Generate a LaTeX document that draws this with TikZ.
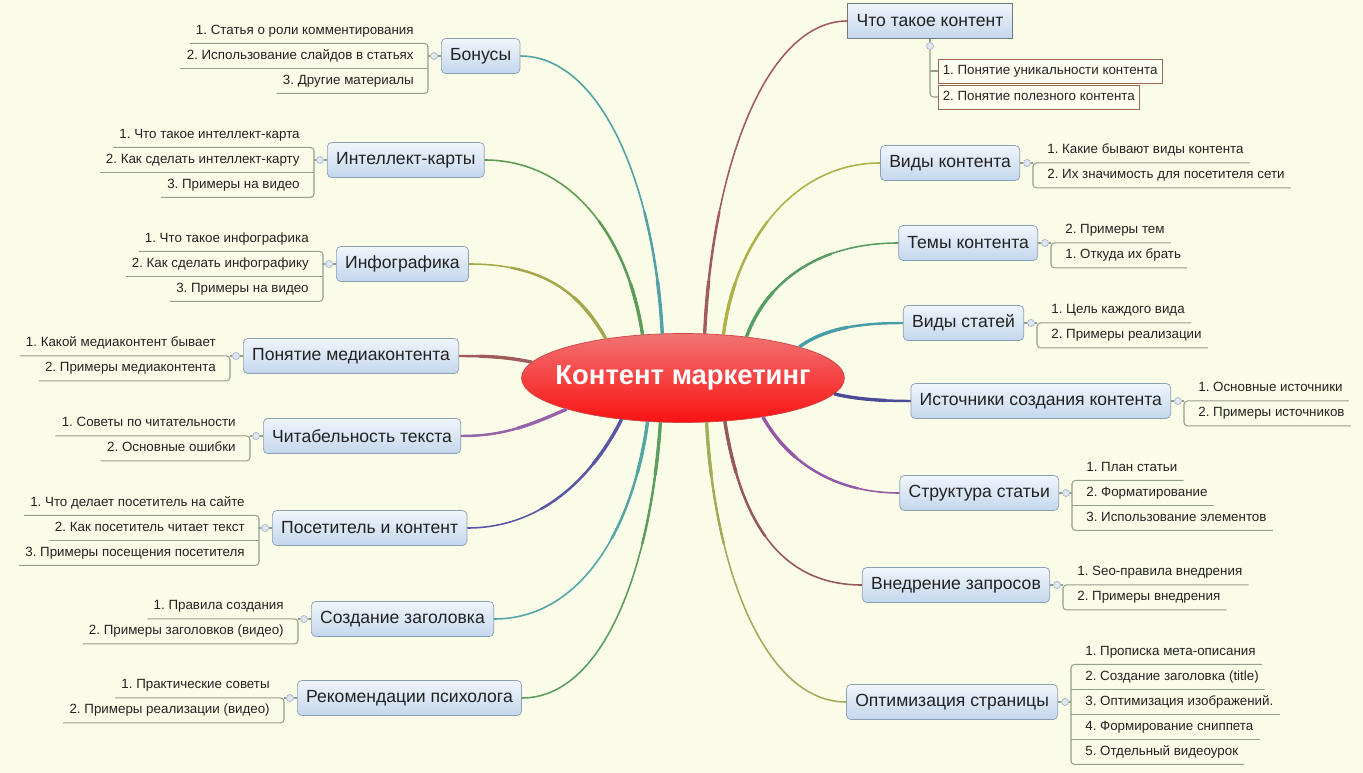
\documentclass[tikz,border=0pt]{standalone}
\usepackage{fontspec}
\setmainfont{Liberation Sans}
\usetikzlibrary{shapes.geometric}
\frenchspacing
\definecolor{paper}{RGB}{251,252,232}
\definecolor{ink}{RGB}{34,34,34}
\definecolor{boxtop}{RGB}{240,245,251}
\definecolor{boxbot}{RGB}{196,215,237}
\definecolor{boxline}{RGB}{140,160,180}
\definecolor{ruleline}{RGB}{150,158,140}
\definecolor{knobline}{RGB}{165,182,200}
\definecolor{knobfill}{RGB}{222,231,242}
\definecolor{cBon}{RGB}{80,162,165}
\definecolor{cInt}{RGB}{92,156,86}
\definecolor{cInf}{RGB}{166,166,74}
\definecolor{cMed}{RGB}{160,90,90}
\definecolor{cRead}{RGB}{150,100,168}
\definecolor{cVis}{RGB}{88,88,166}
\definecolor{cHead}{RGB}{82,166,166}
\definecolor{cPsy}{RGB}{90,158,96}
\definecolor{cWhat}{RGB}{162,92,92}
\definecolor{cKind}{RGB}{176,176,72}
\definecolor{cTheme}{RGB}{88,158,100}
\definecolor{cArt}{RGB}{72,158,166}
\definecolor{cSrc}{RGB}{74,74,150}
\definecolor{cStr}{RGB}{150,88,166}
\definecolor{cImpl}{RGB}{150,88,88}
\definecolor{cOpt}{RGB}{160,174,90}

\begin{document}
\begin{tikzpicture}[x=0.02cm, y=-0.02cm,
	topic/.style={draw=boxline, rounded corners=2.5pt, top color=boxtop, bottom color=boxbot,
	text=ink, font=\fontsize{10}{12}\selectfont, minimum height=0.7cm, inner xsep=5pt},
	leaf/.style={text=ink, font=\fontsize{7.6}{9}\selectfont, inner xsep=3.4pt, minimum height=0.48cm,
	text height=5.5pt, text depth=1.6pt},
	wbox/.style={leaf, draw={rgb,255:red,156;green,104;blue,82}, fill={rgb,255:red,255;green,255;blue,243},
	minimum height=0.42cm, inner xsep=2.5pt},
	knob/.style={circle, draw=knobline, fill=knobfill, inner sep=0pt, minimum size=0.14cm},
	rule/.style={draw=ruleline, line width=0.6pt},
	limb/.style={draw=#1, line width=0.9pt,
	preaction={draw=#1, line width=1.4pt, dash pattern=on 70pt off 2000pt},
	preaction={draw=#1, line width=1.9pt, dash pattern=on 30pt off 2000pt}}]
\fill[paper] (0,0) rectangle (1363,773);

% centre
\node[ellipse, draw={rgb,255:red,205;green,70;blue,70}, top color={rgb,255:red,242;green,115;blue,115},
	bottom color={rgb,255:red,250;green,18;blue,18}, minimum width=6.46cm, minimum height=1.78cm,
	inner sep=0pt] (C) at (683,378) {};
\node[text=white, font=\fontsize{15.6}{18}\selectfont\bfseries] (Ct) at (C) {Контент маркетинг};

% left side
\node[topic, anchor=west] (L1) at (441,56) {Бонусы};
\node[knob] (L1k) at (434,56) {};
\coordinate (L1t) at (428,56);
\node[leaf, anchor=east] (L1-1) at (420,31) {1. Статья о роли комментирования};
\node[leaf, anchor=east] (L1-2) at (420,56) {2. Использование слайдов в статьях};
\node[leaf, anchor=east] (L1-3) at (420,81) {3. Другие материалы};
\draw[rule, rounded corners=2pt] (L1-1.south west) -- (L1-1.south -| L1t) -- (L1-3.south -| L1t) -- (L1-3.south west);
\draw[rule] (L1-2.south west) -- (L1-2.south -| L1t);
\draw[rule] (L1t) -- (L1k) -- (L1);

\node[topic, anchor=west] (L2) at (327,160) {Интеллект-карты};
\node[knob] (L2k) at (320,160) {};
\coordinate (L2t) at (314,160);
\node[leaf, anchor=east] (L2-1) at (306,135) {1. Что такое интеллект-карта};
\node[leaf, anchor=east] (L2-2) at (306,160) {2. Как сделать интеллект-карту};
\node[leaf, anchor=east] (L2-3) at (306,185) {3. Примеры на видео};
\draw[rule, rounded corners=2pt] (L2-1.south west) -- (L2-1.south -| L2t) -- (L2-3.south -| L2t) -- (L2-3.south west);
\draw[rule] (L2-2.south west) -- (L2-2.south -| L2t);
\draw[rule] (L2t) -- (L2k) -- (L2);

\node[topic, anchor=west] (L3) at (336,264) {Инфографика};
\node[knob] (L3k) at (329,264) {};
\coordinate (L3t) at (323,264);
\node[leaf, anchor=east] (L3-1) at (315,239) {1. Что такое инфографика};
\node[leaf, anchor=east] (L3-2) at (315,264) {2. Как сделать инфографику};
\node[leaf, anchor=east] (L3-3) at (315,289) {3. Примеры на видео};
\draw[rule, rounded corners=2pt] (L3-1.south west) -- (L3-1.south -| L3t) -- (L3-3.south -| L3t) -- (L3-3.south west);
\draw[rule] (L3-2.south west) -- (L3-2.south -| L3t);
\draw[rule] (L3t) -- (L3k) -- (L3);

\node[topic, anchor=west] (L4) at (243,356) {Понятие медиаконтента};
\node[knob] (L4k) at (236,356) {};
\coordinate (L4t) at (230,356);
\node[leaf, anchor=east] (L4-1) at (222,343.5) {1. Какой медиаконтент бывает};
\node[leaf, anchor=east] (L4-2) at (222,368.5) {2. Примеры медиаконтента};
\draw[rule, rounded corners=2pt] (L4-1.south west) -- (L4-1.south -| L4t) -- (L4-2.south -| L4t) -- (L4-2.south west);
\draw[rule] (L4t) -- (L4k) -- (L4);

\node[topic, anchor=west] (L5) at (263,436) {Читабельность текста};
\node[knob] (L5k) at (256,436) {};
\coordinate (L5t) at (250,436);
\node[leaf, anchor=east] (L5-1) at (242,423.5) {1. Советы по читательности};
\node[leaf, anchor=east] (L5-2) at (242,448.5) {2. Основные ошибки};
\draw[rule, rounded corners=2pt] (L5-1.south west) -- (L5-1.south -| L5t) -- (L5-2.south -| L5t) -- (L5-2.south west);
\draw[rule] (L5t) -- (L5k) -- (L5);

\node[topic, anchor=west] (L6) at (272,528) {Посетитель и контент};
\node[knob] (L6k) at (265,528) {};
\coordinate (L6t) at (259,528);
\node[leaf, anchor=east] (L6-1) at (251,503) {1. Что делает посетитель на сайте};
\node[leaf, anchor=east] (L6-2) at (251,528) {2. Как посетитель читает текст};
\node[leaf, anchor=east] (L6-3) at (251,553) {3. Примеры посещения посетителя};
\draw[rule, rounded corners=2pt] (L6-1.south west) -- (L6-1.south -| L6t) -- (L6-3.south -| L6t) -- (L6-3.south west);
\draw[rule] (L6-2.south west) -- (L6-2.south -| L6t);
\draw[rule] (L6t) -- (L6k) -- (L6);

\node[topic, anchor=west] (L7) at (311,619) {Создание заголовка};
\node[knob] (L7k) at (304,619) {};
\coordinate (L7t) at (298,619);
\node[leaf, anchor=east] (L7-1) at (290,606.5) {1. Правила создания};
\node[leaf, anchor=east] (L7-2) at (290,631.5) {2. Примеры заголовков (видео)};
\draw[rule, rounded corners=2pt] (L7-1.south west) -- (L7-1.south -| L7t) -- (L7-2.south -| L7t) -- (L7-2.south west);
\draw[rule] (L7t) -- (L7k) -- (L7);

\node[topic, anchor=west] (L8) at (297,698) {Рекомендации психолога};
\node[knob] (L8k) at (290,698) {};
\coordinate (L8t) at (284,698);
\node[leaf, anchor=east] (L8-1) at (276,685.5) {1. Практические советы};
\node[leaf, anchor=east] (L8-2) at (276,710.5) {2. Примеры реализации (видео)};
\draw[rule, rounded corners=2pt] (L8-1.south west) -- (L8-1.south -| L8t) -- (L8-2.south -| L8t) -- (L8-2.south west);
\draw[rule] (L8t) -- (L8k) -- (L8);

% right side
\node[topic, rounded corners=0pt, draw={rgb,255:red,112;green,120;blue,128}] (R1) at (930,21) {Что такое контент};
\node[knob] (R1k) at (930,46) {};
\node[wbox, anchor=west] (R1-1) at (938,71) {1. Понятие уникальности контента};
\node[wbox, anchor=west] (R1-2) at (938,97) {2. Понятие полезного контента};
\draw[rule] (R1) -- (R1k);
\draw[rule, rounded corners=2pt] (R1k) -- (R1k |- R1-2.west) -- (R1-2.west);
\draw[rule] (R1k |- R1-1.west) -- (R1-1.west);

\node[topic, anchor=east] (R2) at (1020,163) {Виды контента};
\node[knob] (R2k) at (1027,163) {};
\coordinate (R2t) at (1033,163);
\node[leaf, anchor=west] (R2-1) at (1041,150.5) {1. Какие бывают виды контента};
\node[leaf, anchor=west] (R2-2) at (1041,175.5) {2. Их значимость для посетителя сети};
\draw[rule, rounded corners=2pt] (R2-1.south east) -- (R2-1.south -| R2t) -- (R2-2.south -| R2t) -- (R2-2.south east);
\draw[rule] (R2) -- (R2k) -- (R2t);

\node[topic, anchor=east] (R3) at (1038,243) {Темы контента};
\node[knob] (R3k) at (1045,243) {};
\coordinate (R3t) at (1051,243);
\node[leaf, anchor=west] (R3-1) at (1059,230.5) {2. Примеры тем};
\node[leaf, anchor=west] (R3-2) at (1059,255.5) {1. Откуда их брать};
\draw[rule, rounded corners=2pt] (R3-1.south east) -- (R3-1.south -| R3t) -- (R3-2.south -| R3t) -- (R3-2.south east);
\draw[rule] (R3) -- (R3k) -- (R3t);

\node[topic, anchor=east] (R4) at (1024,323) {Виды статей};
\node[knob] (R4k) at (1031,323) {};
\coordinate (R4t) at (1037,323);
\node[leaf, anchor=west] (R4-1) at (1045,310.5) {1. Цель каждого вида};
\node[leaf, anchor=west] (R4-2) at (1045,335.5) {2. Примеры реализации};
\draw[rule, rounded corners=2pt] (R4-1.south east) -- (R4-1.south -| R4t) -- (R4-2.south -| R4t) -- (R4-2.south east);
\draw[rule] (R4) -- (R4k) -- (R4t);

\node[topic, anchor=east] (R5) at (1171,401) {Источники создания контента};
\node[knob] (R5k) at (1178,401) {};
\coordinate (R5t) at (1184,401);
\node[leaf, anchor=west] (R5-1) at (1192,388.5) {1. Основные источники};
\node[leaf, anchor=west] (R5-2) at (1192,413.5) {2. Примеры источников};
\draw[rule, rounded corners=2pt] (R5-1.south east) -- (R5-1.south -| R5t) -- (R5-2.south -| R5t) -- (R5-2.south east);
\draw[rule] (R5) -- (R5k) -- (R5t);

\node[topic, anchor=east] (R6) at (1059,493) {Структура статьи};
\node[knob] (R6k) at (1066,493) {};
\coordinate (R6t) at (1072,493);
\node[leaf, anchor=west] (R6-1) at (1080,468) {1. План статьи};
\node[leaf, anchor=west] (R6-2) at (1080,493) {2. Форматирование};
\node[leaf, anchor=west] (R6-3) at (1080,518) {3. Использование элементов};
\draw[rule, rounded corners=2pt] (R6-1.south east) -- (R6-1.south -| R6t) -- (R6-3.south -| R6t) -- (R6-3.south east);
\draw[rule] (R6-2.south east) -- (R6-2.south -| R6t);
\draw[rule] (R6) -- (R6k) -- (R6t);

\node[topic, anchor=east] (R7) at (1050,585) {Внедрение запросов};
\node[knob] (R7k) at (1057,585) {};
\coordinate (R7t) at (1063,585);
\node[leaf, anchor=west] (R7-1) at (1071,572.5) {1. Seo-правила внедрения};
\node[leaf, anchor=west] (R7-2) at (1071,597.5) {2. Примеры внедрения};
\draw[rule, rounded corners=2pt] (R7-1.south east) -- (R7-1.south -| R7t) -- (R7-2.south -| R7t) -- (R7-2.south east);
\draw[rule] (R7) -- (R7k) -- (R7t);

\node[topic, anchor=east] (R8) at (1058,702) {Оптимизация страницы};
\node[knob] (R8k) at (1065,702) {};
\coordinate (R8t) at (1071,702);
\node[leaf, anchor=west] (R8-1) at (1079,652) {1. Прописка мета-описания};
\node[leaf, anchor=west] (R8-2) at (1079,677) {2. Создание заголовка (title)};
\node[leaf, anchor=west] (R8-3) at (1079,702) {3. Оптимизация изображений.};
\node[leaf, anchor=west] (R8-4) at (1079,727) {4. Формирование сниппета};
\node[leaf, anchor=west] (R8-5) at (1079,752) {5. Отдельный видеоурок};
\draw[rule, rounded corners=2pt] (R8-1.south east) -- (R8-1.south -| R8t) -- (R8-5.south -| R8t) -- (R8-5.south east);
\draw[rule] (R8-2.south east) -- (R8-2.south -| R8t);
\draw[rule] (R8-3.south east) -- (R8-3.south -| R8t);
\draw[rule] (R8-4.south east) -- (R8-4.south -| R8t);
\draw[rule] (R8) -- (R8k) -- (R8t);

% branches from the centre
\draw[limb=cBon] (C.115) .. controls +(-8,-150) and +(80,0) .. (L1.east);
\draw[limb=cInt] (C.133) .. controls +(-15,-100) and +(85,0) .. (L2.east);
\draw[limb=cInf] (C.153) .. controls +(-25,-45) and +(75,0) .. (L3.east);
\draw[limb=cMed] (C.174) .. controls +(-25,-5) and +(30,0) .. (L4.east);
\draw[limb=cRead] (C.195) .. controls +(-35,15) and +(45,0) .. (L5.east);
\draw[limb=cVis] (C.214) .. controls +(-25,50) and +(80,0) .. (L6.east);
\draw[limb=cHead] (C.231) .. controls +(-15,110) and +(85,0) .. (L7.east);
\draw[limb=cPsy] (C.243) .. controls +(-10,150) and +(80,0) .. (L8.east);
\draw[limb=cWhat] (C.64) .. controls +(8,-170) and +(-80,0) .. (R1.west);
\draw[limb=cKind] (C.47) .. controls +(12,-95) and +(-85,0) .. (R2.west);
\draw[limb=cTheme] (C.33) .. controls +(20,-55) and +(-80,0) .. (R3.west);
\draw[limb=cArt] (C.15) .. controls +(25,-18) and +(-45,0) .. (R4.west);
\draw[limb=cSrc] (C.354) .. controls +(20,5) and +(-30,0) .. (R5.west);
\draw[limb=cStr] (C.334) .. controls +(25,45) and +(-65,0) .. (R6.west);
\draw[limb=cImpl] (C.314) .. controls +(15,95) and +(-85,0) .. (R7.west);
\draw[limb=cOpt] (C.298) .. controls +(8,150) and +(-80,0) .. (R8.west);
\end{tikzpicture}
\end{document}
